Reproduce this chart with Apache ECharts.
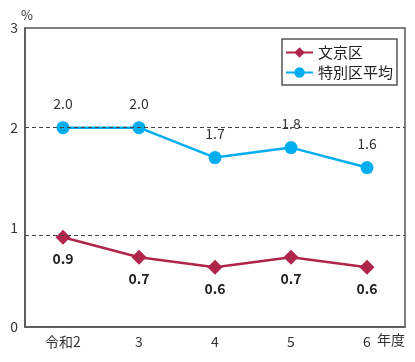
<!DOCTYPE html>
<html><head><meta charset="utf-8">
<script src="https://cdn.jsdelivr.net/npm/echarts@6/dist/echarts.min.js"></script>
<style>html,body{margin:0;padding:0;background:#fff}#c{width:415px;height:362px}</style>
</head><body><div id="c"></div>
<script>
const categories = ['令和2', '3', '4', '5', '6'];
const bunkyo = [0.9, 0.7, 0.6, 0.7, 0.6];
const tokubetsu = [2.0, 2.0, 1.7, 1.8, 1.6];
const dashedLines = [2, 0.92];
const seriesNames = ['文京区', '特別区平均'];
const FONT = '"Noto Sans CJK JP","Noto Sans",sans-serif';
const chart = echarts.init(document.getElementById('c'));
chart.setOption({
  animation: false,
  textStyle: {fontFamily: FONT},
  grid: {left: 25, right: 10, top: 28, bottom: 35, show: true, borderColor: '#555', borderWidth: 1.5, backgroundColor: 'transparent'},
  legend: {
    orient: 'vertical', right: 18, top: 39, itemWidth: 27, itemHeight: 13, itemGap: 5,
    padding: [6, 4, 5, 3], borderColor: '#555', borderWidth: 1.5,
    textStyle: {fontSize: 15, color: '#222', fontFamily: FONT},
    data: seriesNames
  },
  xAxis: {
    type: 'category', data: categories, boundaryGap: true,
    axisLine: {lineStyle: {color: '#555', width: 1.5}}, axisTick: {show: false},
    axisLabel: {color: '#333', fontSize: 14, margin: 8, fontFamily: FONT}
  },
  yAxis: {
    type: 'value', min: 0, max: 3, interval: 1, name: '%', nameGap: 6,
    nameTextStyle: {color: '#333', fontSize: 13, align: 'right', padding: [0, -8, 0, 0]},
    axisLine: {show: true, lineStyle: {color: '#555', width: 1.5}}, axisTick: {show: false},
    splitLine: {show: false},
    axisLabel: {color: '#333', fontSize: 14, margin: 7, fontFamily: FONT}
  },
  graphic: [{type: 'text', left: 377, top: 333, style: {text: '年度', fontSize: 14, fill: '#333', fontFamily: FONT}}],
  series: [
    {
      name: seriesNames[0], type: 'line', data: bunkyo, symbol: 'diamond', symbolSize: 15,
      lineStyle: {color: '#b0254a', width: 2.5}, itemStyle: {color: '#b0254a'},
      label: {show: true, position: 'bottom', distance: 7, fontSize: 14, fontWeight: 'bold', color: '#222',
              formatter: p => p.value.toFixed(1)},
      markLine: {silent: true, symbol: 'none', label: {show: false},
                 lineStyle: {type: [4, 3], color: '#444', width: 1},
                 data: dashedLines.map(v => ({yAxis: v}))},
      z: 3
    },
    {
      name: seriesNames[1], type: 'line', data: tokubetsu, symbol: 'circle', symbolSize: 13,
      lineStyle: {color: '#00aeef', width: 2.5}, itemStyle: {color: '#00aeef'},
      label: {show: true, position: 'top', distance: 10, fontSize: 14, color: '#333',
              formatter: p => p.value.toFixed(1)},
      z: 4
    }
  ]
});
</script></body></html>
